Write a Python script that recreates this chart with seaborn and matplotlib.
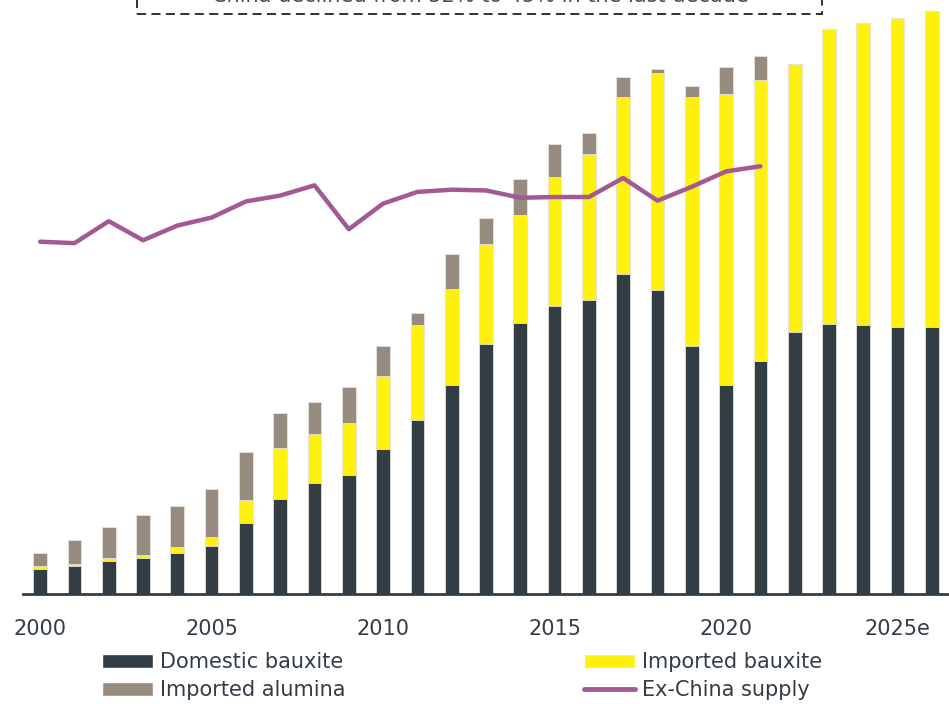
import matplotlib
matplotlib.use("Agg")
import matplotlib.pyplot as plt
from matplotlib.patches import Rectangle
from matplotlib.lines import Line2D
from matplotlib.patches import Patch
import numpy as np
import pandas as pd
import seaborn as sns

years = [str(y) for y in range(2000, 2027)]
tick_labels = ["2000", "2005", "2010", "2015", "2020", "2025e"]

domestic_bauxite = [3.44, 3.8, 4.48, 4.98, 5.62, 6.58, 9.67, 12.94, 15.2, 16.27,
                    19.8, 23.7, 28.6, 34.2, 37.0, 39.3, 40.1, 43.7, 41.5, 33.8,
                    28.6, 31.8, 35.8, 36.8, 36.7, 36.5, 36.4]
imported_bauxite = [0.36, 0.36, 0.37, 0.41, 0.73, 1.18, 3.23, 6.96, 6.7, 7.03,
                    10.0, 13.0, 13.0, 13.6, 14.7, 17.7, 20.0, 24.1, 29.7, 34.0,
                    39.7, 38.4, 36.6, 40.3, 41.2, 42.1, 43.2]
imported_alumina = [1.82, 3.24, 4.32, 5.33, 5.6, 6.64, 6.5, 4.8, 4.3, 4.9,
                    4.1, 1.7, 4.8, 3.6, 5.0, 4.5, 2.9, 2.8, 0.5, 1.6,
                    3.6, 3.2, 0, 0, 0, 0, 0]
ex_china_supply = [48.1, 47.9, 50.9, 48.3, 50.3, 51.4, 53.6, 54.4, 55.8, 49.8,
                   53.3, 54.9, 55.2, 55.1, 54.1, 54.2, 54.2, 56.8, 53.7, 55.6,
                   57.7, 58.4]

C_DOM = "#323d44"
C_BAUX = "#fff10f"
C_ALU = "#978b80"
C_LINE = "#a25994"
C_TEXT = "#333d47"
FS = 15

df = pd.DataFrame({
    "year": years,
    "domestic": domestic_bauxite,
    "bauxite": imported_bauxite,
    "alumina": imported_alumina,
})
df["lvl_bauxite"] = df["domestic"] + df["bauxite"]
df["lvl_alumina"] = df["lvl_bauxite"] + df["alumina"]

line_df = pd.DataFrame({"pos": np.arange(len(ex_china_supply)),
                        "supply": ex_china_supply})

sns.set_style("white")
plt.rcParams["font.family"] = ["DejaVu Sans"]

W, H = 949, 704
fig = plt.figure(figsize=(W / 100, H / 100), dpi=100)
ax = fig.add_axes([23 / W, (H - 594) / H, (W - 23) / W, 594 / H])

bar_kw = dict(width=0.4, edgecolor="#e6e3de", linewidth=0.6, ax=ax,
              order=years, zorder=2)
# stacked bars: draw cumulative totals from the top layer down
sns.barplot(data=df, x="year", y="lvl_alumina", color=C_ALU, saturation=1, **bar_kw)
sns.barplot(data=df, x="year", y="lvl_bauxite", color=C_BAUX, saturation=1, **bar_kw)
sns.barplot(data=df, x="year", y="domestic", color=C_DOM, saturation=1, **bar_kw)

sns.lineplot(data=line_df, x="pos", y="supply", color=C_LINE, linewidth=3.2,
             ax=ax, zorder=3, solid_capstyle="round", solid_joinstyle="round")

ax.set_xlim(-0.5, 26.5)
ax.set_ylim(0, 81.1)
ax.set_xticks([0, 5, 10, 15, 20, 25])
ax.set_xticklabels(tick_labels)
ax.tick_params(axis="x", length=0, pad=18, labelsize=FS, labelcolor=C_TEXT)
ax.set_yticks([])
ax.set_xlabel("")
ax.set_ylabel("")
for side in ["top", "right", "left"]:
    ax.spines[side].set_visible(False)
ax.spines["bottom"].set_color(C_TEXT)
ax.spines["bottom"].set_linewidth(2)
ax.spines["bottom"].set_zorder(4)

# call-out box across the top
fig.add_artist(Rectangle((137 / W, (H - 14) / H), (822 - 137) / W, 0.1,
                         transform=fig.transFigure, fill=False,
                         edgecolor="#222222", linewidth=1.3,
                         linestyle=(0, (5, 3))))
fig.text(480 / W, (H - 1.5) / H, "China declined from 52% to 45% in the last decade",
         ha="center", va="baseline", fontsize=FS, color="#4a4f55")

leg_kw = dict(frameon=False, fontsize=FS, handlelength=2.45, handleheight=0.65,
              handletextpad=0.33, labelspacing=0.38, borderpad=0, borderaxespad=0,
              labelcolor=C_TEXT)
h1 = [Patch(facecolor=C_DOM), Patch(facecolor=C_ALU)]
fig.legend(h1, ["Domestic bauxite", "Imported alumina"], loc="upper left",
           bbox_to_anchor=(102 / W, (H - 652) / H), **leg_kw)
h2 = [Patch(facecolor=C_BAUX),
      Line2D([0], [0], color=C_LINE, linewidth=3.5, solid_capstyle="round")]
fig.legend(h2, ["Imported bauxite", "Ex-China supply"], loc="upper left",
           bbox_to_anchor=(584 / W, (H - 652) / H), **leg_kw)

fig.savefig("out.png", dpi=100)
